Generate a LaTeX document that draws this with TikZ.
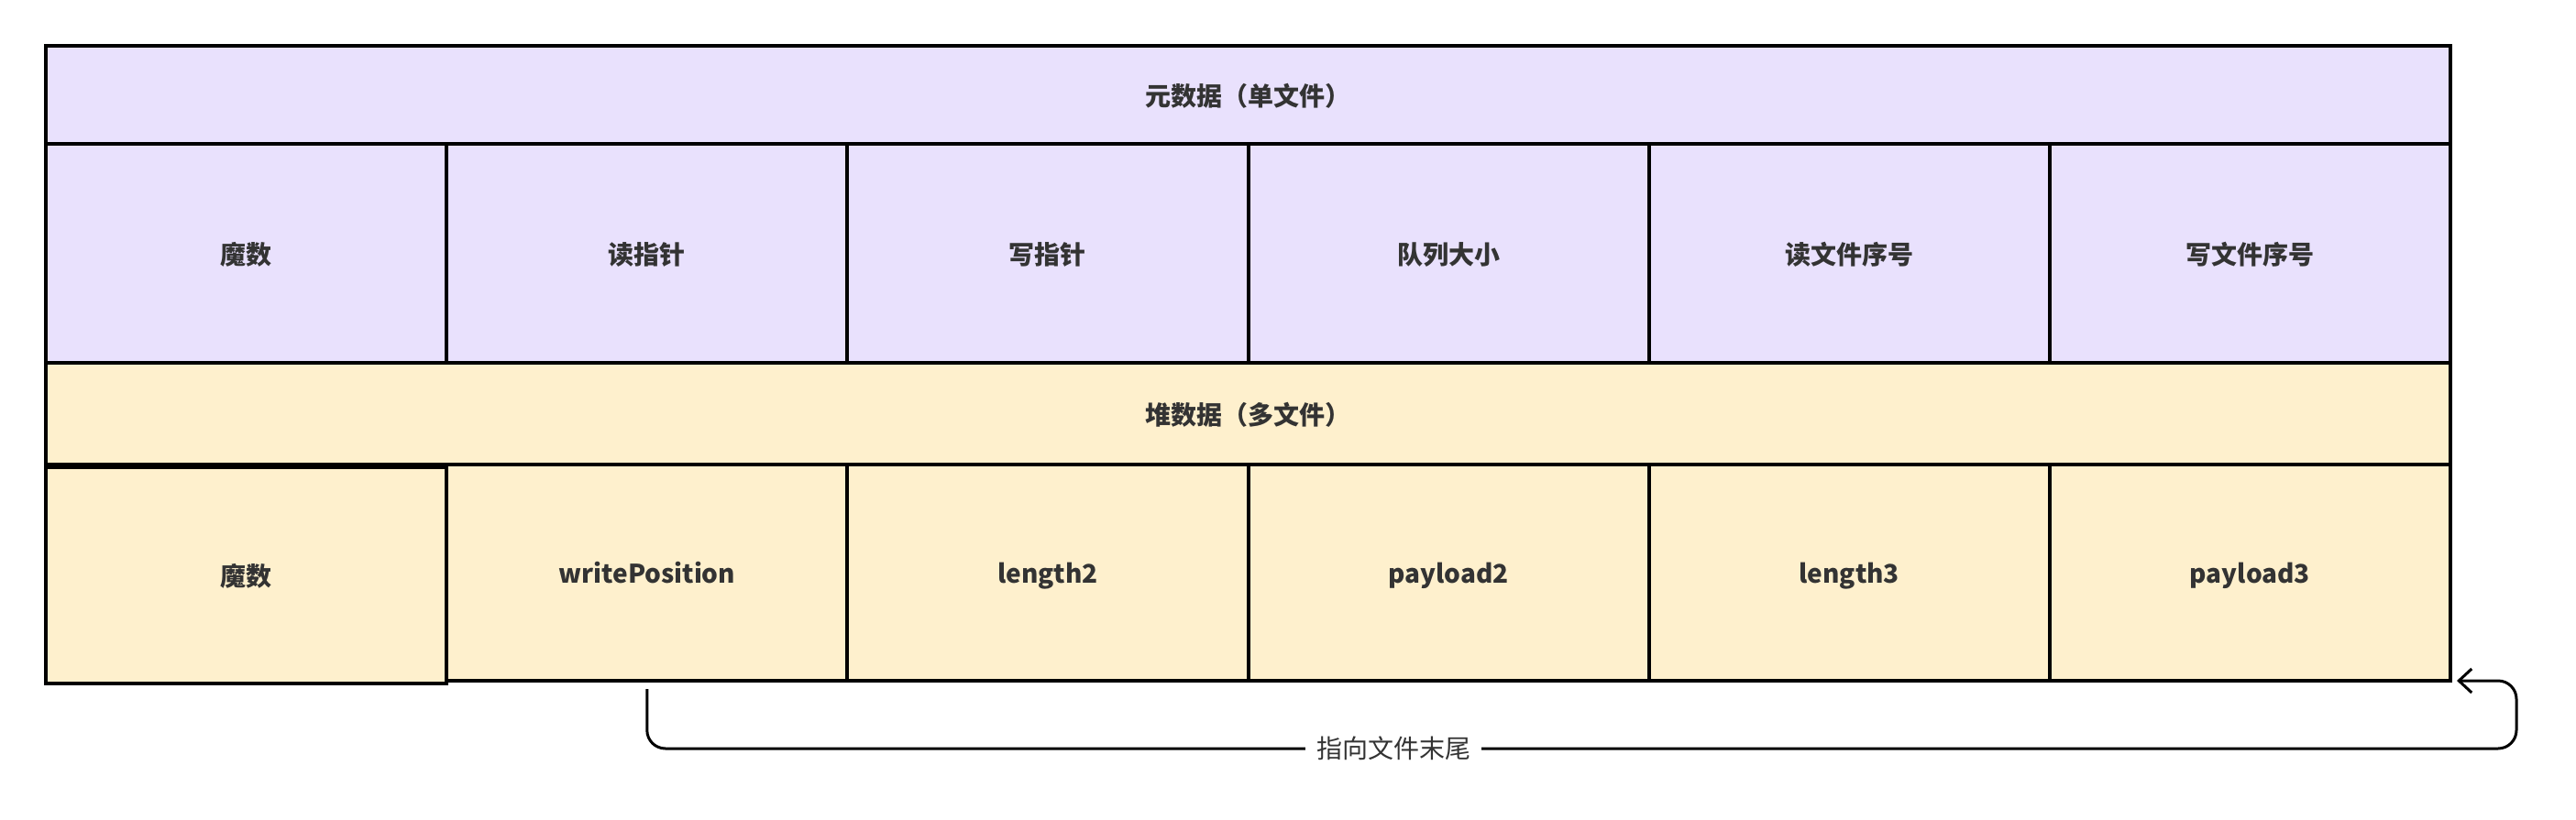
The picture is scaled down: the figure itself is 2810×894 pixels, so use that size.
\documentclass[tikz,border=0pt]{standalone}
\usepackage{fontspec}
\setmainfont{Noto Sans CJK SC}
\usetikzlibrary{arrows.meta}
\definecolor{metafill}{HTML}{E9E1FD}
\definecolor{heapfill}{HTML}{FEF0CD}
\definecolor{labeltext}{HTML}{333333}
\tikzset{
  cell/.style={draw, line width=2pt, outer sep=0pt, inner sep=0pt, text=labeltext,
    font=\fontsize{14}{16}\selectfont\bfseries, text height=13pt, text depth=1.5pt, minimum width=218.6pt},
  metacell/.style={cell, fill=metafill},
  heapcell/.style={cell, fill=heapfill},
  pointer/.style={draw, line width=1.5pt, rounded corners=10pt, -{Straight Barb[length=7pt,width=13pt]}}
}

\begin{document}
\begin{tikzpicture}[x=0.5pt, y=-0.5pt]
\useasboundingbox (0,0) rectangle (2810,894);
\node[metacell, minimum width=1311.5pt, minimum height=53.5pt] (metahead) at (1361.5,103.5) {元数据（单文件）};
\node[metacell, minimum height=119.5pt] (metamagic) at (268.6,276.5) {魔数};
\node[metacell, minimum height=119.5pt] (readptr) at (705.8,276.5) {读指针};
\node[metacell, minimum height=119.5pt] (writeptr) at (1142.9,276.5) {写指针};
\node[metacell, minimum height=119.5pt] (queuesize) at (1580.1,276.5) {队列大小};
\node[metacell, minimum height=119.5pt] (readfileno) at (2017.2,276.5) {读文件序号};
\node[metacell, minimum height=119.5pt] (writefileno) at (2454.4,276.5) {写文件序号};
\node[heapcell, minimum width=1311.5pt, minimum height=55.5pt] (heaphead) at (1361.5,451.5) {堆数据（多文件）};
\node[heapcell, minimum height=118pt] (heapmagic) at (268.6,628) {魔数};
\node[heapcell, minimum height=118pt] (writepos) at (705.8,625) {writePosition};
\node[heapcell, minimum height=118pt] (len2) at (1142.9,625) {length2};
\node[heapcell, minimum height=118pt] (pay2) at (1580.1,625) {payload2};
\node[heapcell, minimum height=118pt] (len3) at (2017.2,625) {length3};
\node[heapcell, minimum height=118pt] (pay3) at (2454.4,625) {payload3};
\coordinate (ptrstart) at ([yshift=-4.5pt]writepos.south);
\coordinate (ptrend) at ([xshift=3.5pt]pay3.south east);
\draw[pointer] (ptrstart) |- (2745,817) |- (ptrend);
\node[fill=white, text=labeltext, font=\fontsize{14}{16}\selectfont, inner xsep=6pt] (ptrlabel) at (1520,817) {指向文件末尾};
\end{tikzpicture}
\end{document}
